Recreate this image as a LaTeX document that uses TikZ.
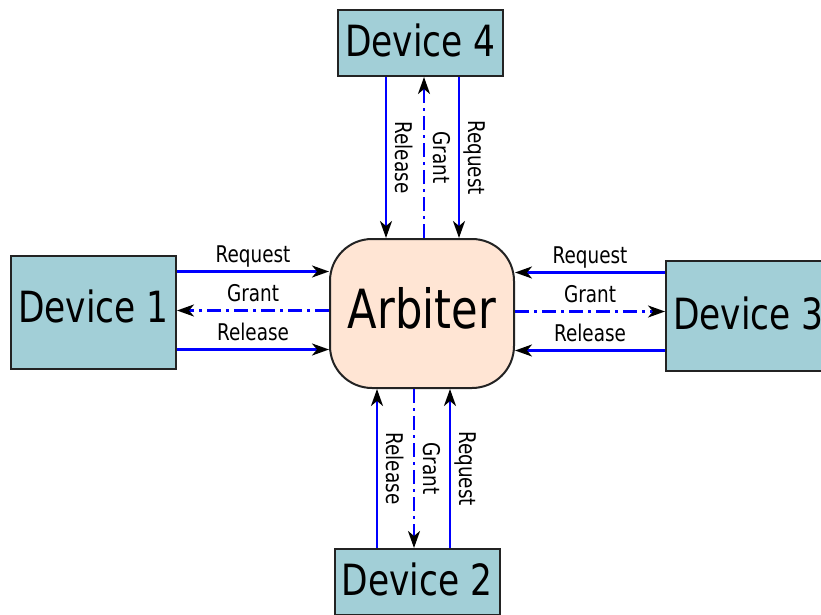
\documentclass[tikz,border=0pt]{standalone}
\usepackage{fontspec}
\setmainfont{DejaVu Sans}[FakeStretch=0.8]
\usepackage{tikz}
\usetikzlibrary{arrows.meta, calc, positioning}

\definecolor{devfill}{RGB}{162,207,215}
\definecolor{arbfill}{RGB}{255,229,212}
\definecolor{edge}{RGB}{35,35,35}

\tikzset{
	device/.style={draw=edge, line width=2pt, fill=devfill, minimum width=165pt,
		inner sep=0pt, text depth=6pt, font=\fontsize{43}{50}\selectfont},
	arbiter/.style={draw=edge, line width=2pt, fill=arbfill, rounded corners=42pt,
		minimum width=184pt, minimum height=149pt, text depth=12pt,
		font=\fontsize{54}{60}\selectfont},
	sig/.style={blue, line width=2.4pt, -{Stealth[black, length=17pt, width=12pt, inset=5pt]}},
	grantsig/.style={sig, dash pattern=on 14pt off 5pt on 3pt off 5pt},
	lbl/.style={text=black, font=\fontsize{23}{26}\selectfont, inner sep=3pt,
		text height=17pt, text depth=5pt},
	vlbl/.style={lbl, rotate=-90, anchor=south, midway}
}

\begin{document}
\begin{tikzpicture}[x=1pt, y=-1pt]
\useasboundingbox (0,0) rectangle (821,615);

\node[arbiter] (arb) at (422,313.5) {Arbiter};
\node[device, minimum height=113pt, text depth=12pt] (dev1) at (93.5,312.5) {Device 1};
\node[device, minimum height=66pt] (dev2) at (417,582) {Device 2};
\node[device, minimum height=110pt] (dev3) at (748.5,316) {Device 3};
\node[device, minimum height=66pt] (dev4) at (420.5,43) {Device 4};

% device 1
\draw[sig] ([yshift=42pt]arb.west -| dev1.east) -- node[lbl, above] {Request} ([yshift=42pt]arb.west);
\draw[grantsig] ([yshift=3pt]arb.west) -- node[lbl, above] {Grant} ([yshift=3pt]arb.west -| dev1.east);
\draw[sig] ([yshift=-36pt]arb.west -| dev1.east) -- node[lbl, above] {Release} ([yshift=-36pt]arb.west);

% device 3
\draw[sig] ([yshift=41pt]arb.east -| dev3.west) -- node[lbl, above] {Request} ([yshift=41pt]arb.east);
\draw[grantsig] ([yshift=2pt]arb.east) -- node[lbl, above] {Grant} ([yshift=2pt]arb.east -| dev3.west);
\draw[sig] ([yshift=-37pt]arb.east -| dev3.west) -- node[lbl, above] {Release} ([yshift=-37pt]arb.east);

% device 4
\draw[sig] ([xshift=-36pt]arb.north |- dev4.south) -- node[vlbl] {Release} ([xshift=-36pt]arb.north);
\draw[grantsig] ([xshift=2pt]arb.north) -- node[vlbl] {Grant} ([xshift=2pt]arb.north |- dev4.south);
\draw[sig] ([xshift=37pt]arb.north |- dev4.south) -- node[vlbl] {Request} ([xshift=37pt]arb.north);

% device 2
\draw[sig] ([xshift=-45pt]arb.south |- dev2.north) -- node[vlbl] {Release} ([xshift=-45pt]arb.south);
\draw[grantsig] ([xshift=-8pt]arb.south) -- node[vlbl] {Grant} ([xshift=-8pt]arb.south |- dev2.north);
\draw[sig] ([xshift=28pt]arb.south |- dev2.north) -- node[vlbl] {Request} ([xshift=28pt]arb.south);
\end{tikzpicture}
\end{document}
